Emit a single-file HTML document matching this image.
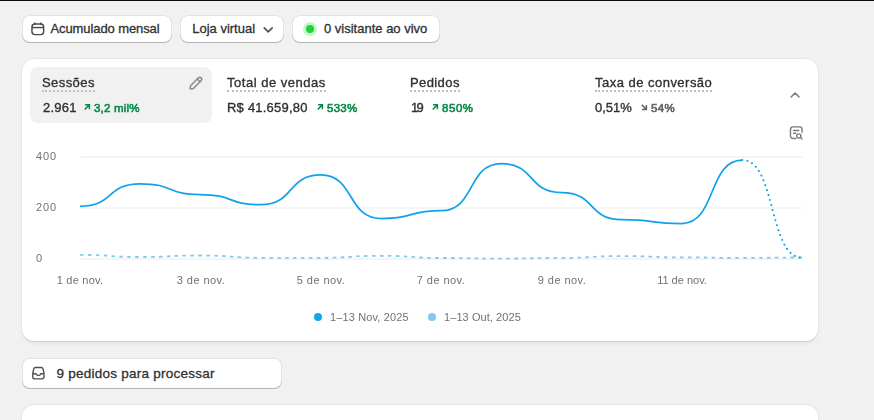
<!DOCTYPE html>
<html lang="pt-BR">
<head>
<meta charset="utf-8">
<title>Painel</title>
<style>
*{box-sizing:border-box;margin:0;padding:0}
html,body{width:874px;height:420px;overflow:hidden;background:#f1f1f1;font-family:"Liberation Sans",sans-serif;color:#303030}
body{position:relative}
.topbar{position:absolute;left:0;top:0;width:874px;height:1px;background:#0a0a0a}
.btn{position:absolute;top:15px;height:28px;background:#fff;border-radius:8px;box-shadow:inset 0 -1px 0 0 #b5b5b5,inset 0 0 0 1px #e3e3e3}
.tx{position:absolute;white-space:nowrap;line-height:16px;font-size:13px;color:#303030}
.md{-webkit-text-stroke:0.3px #303030}
.card{position:absolute;left:22px;top:59px;width:796px;height:282px;background:#fff;border-radius:12px;box-shadow:0 1px 0 0 #d0d0d0,0 0 0 1px #e6e6e6,0 4px 5px -2px rgba(0,0,0,0.07)}
.sel{position:absolute;left:30px;top:67px;width:182px;height:56px;background:#f1f1f1;border-radius:8px}
.t,.v,.d,.ax{will-change:transform}
.t{-webkit-text-stroke:0.35px #303030;border-bottom:2px dotted #c0c0c0;height:18px;line-height:17px}
.v{-webkit-text-stroke:0.35px #303030}
.d{font-size:11.5px;color:#088a47;-webkit-text-stroke:0.6px #088a47}
.d.n{color:#616161;-webkit-text-stroke:0.6px #616161}
.ax{position:absolute;font-size:11px;letter-spacing:0.45px;color:#70707b;line-height:14px;white-space:nowrap}
.axc{transform:translateX(-50%)}
.dot{position:absolute;width:8px;height:8px;border-radius:50%}
svg{position:absolute;overflow:visible}
</style>
</head>
<body>
<div class="topbar"></div>

<!-- top buttons -->
<div class="btn" style="left:22px;width:150px"></div>
<svg style="left:31px;top:21.5px" width="14" height="14" viewBox="0 0 14 14" fill="none" stroke="#4a4a4a" stroke-width="1.45"><rect x="0.95" y="2" width="11.7" height="10.6" rx="3"/><path d="M1 5.55h11.6"/><path d="M3.8 0.9v1.3M10 0.9v1.3" stroke-linecap="round"/></svg>
<span class="tx md" id="t1" style="left:50.5px;top:21px;letter-spacing:-0.1px">Acumulado mensal</span>

<div class="btn" style="left:180px;width:104px"></div>
<span class="tx md" id="t2" style="left:192.2px;top:21px">Loja virtual</span>
<svg style="left:262px;top:26px" width="12" height="8" viewBox="0 0 12 8" fill="none" stroke="#4a4a4a" stroke-width="1.5" stroke-linecap="round" stroke-linejoin="round"><path d="M2.2 1.9l4 4 4-4"/></svg>

<div class="btn" style="left:292px;width:148px"></div>
<div class="dot" style="left:303px;top:22px;width:14px;height:14px;background:#c6f4cd"></div>
<div class="dot" style="left:306px;top:25px;width:8px;height:8px;background:#23d233"></div>
<span class="tx md" id="t3" style="left:324px;top:21px">0 visitante ao vivo</span>

<!-- card -->
<div class="card"></div>
<div class="sel"></div>
<svg style="left:186px;top:73px" width="20" height="20" viewBox="0 0 20 20"><path fill="#8a8a8a" fill-rule="evenodd" d="M15.655 4.344a2.695 2.695 0 0 0-3.81 0l-.599.599-.009-.009-1.06 1.06.008.01-5.88 5.88a2.750 2.750 0 0 0-.805 1.944v1.922a.75.75 0 0 0 .75.75h1.922a2.750 2.750 0 0 0 1.944-.806l7.540-7.539a2.695 2.695 0 0 0 0-3.810Zm-4.409 2.720-5.880 5.880a1.250 1.250 0 0 0-.366.884v1.172h1.172c.331 0 .65-.132.883-.366l5.880-5.880-1.689-1.690Zm2.750.629.599-.599a1.195 1.195 0 1 0-1.690-1.689l-.598.599 1.690 1.689Z"/></svg>

<span class="tx t" id="m1" style="left:42px;top:74px;letter-spacing:0.43px">Sessões</span>
<span class="tx v" id="v1" style="left:42.6px;top:99.5px;letter-spacing:0.25px">2.961</span>
<span class="tx d" id="d1" style="left:93.8px;top:99.5px;letter-spacing:0.20px">3,2 mil%</span>

<span class="tx t" id="m2" style="left:227px;top:74px;letter-spacing:0.52px">Total de vendas</span>
<span class="tx v" id="v2" style="left:226.6px;top:99.5px;letter-spacing:0.22px">R$ 41.659,80</span>
<span class="tx d" id="d2" style="left:326.8px;top:99.5px;letter-spacing:0.25px">533%</span>

<span class="tx t" id="m3" style="left:410px;top:74px;letter-spacing:0.4px">Pedidos</span>
<span class="tx v" id="v3" style="left:411px;top:99.5px;letter-spacing:-1.7px">19</span>
<span class="tx d" id="d3" style="left:442.1px;top:99.5px;letter-spacing:0.55px">850%</span>

<span class="tx t" id="m4" style="left:594.5px;top:74px;letter-spacing:0.48px">Taxa de conversão</span>
<span class="tx v" id="v4" style="left:594.6px;top:99.5px">0,51%</span>
<span class="tx d n" id="d4" style="left:650.8px;top:99.5px;letter-spacing:0.40px">54%</span>

<!-- trend arrows -->
<svg style="left:83.8px;top:104.2px" width="6.2" height="6.2" viewBox="0 0 7 7" fill="none" stroke="#088a47" stroke-width="1.7"><path d="M1.2 0.9H6.1V5.8M6 1 0.8 6.2"/></svg>
<svg style="left:316.9px;top:104.2px" width="6.2" height="6.2" viewBox="0 0 7 7" fill="none" stroke="#088a47" stroke-width="1.7"><path d="M1.2 0.9H6.1V5.8M6 1 0.8 6.2"/></svg>
<svg style="left:431.9px;top:104.2px" width="6.2" height="6.2" viewBox="0 0 7 7" fill="none" stroke="#088a47" stroke-width="1.7"><path d="M1.2 0.9H6.1V5.8M6 1 0.8 6.2"/></svg>
<svg style="left:641px;top:104.4px" width="6.2" height="6.2" viewBox="0 0 7 7" fill="none" stroke="#616161" stroke-width="1.7"><path d="M1.2 6.1H6.1V1.2M6 6 0.8 0.8"/></svg>

<!-- right icons -->
<svg style="left:788px;top:89px" width="14" height="12" viewBox="0 0 14 12" fill="none" stroke="#787878" stroke-width="1.45" stroke-linecap="round" stroke-linejoin="round"><path d="M3.1 8l4-4 4 4"/></svg>
<svg style="left:788px;top:124px" width="18" height="18" viewBox="0 0 18 18" fill="none" stroke="#7a7a7a" stroke-width="1.4" stroke-linecap="round" stroke-linejoin="round"><path d="M7.6 14.5H5.2a2.750 2.750 0 0 1-2.750-2.750V5.650A2.750 2.750 0 0 1 5.200 2.900h6.100a2.750 2.750 0 0 1 2.750 2.750v2.700"/><path d="M5.600 6.500h5.200M5.600 9.300h2.100"/><circle cx="10.800" cy="12" r="2.100"/><path d="M12.400 13.600l1.700 1.500"/></svg>

<!-- chart -->
<svg style="left:0;top:0" width="874" height="420" viewBox="0 0 874 420" fill="none">
<path d="M80.400 157H802.400M80.400 208H802.400M80.400 259H802.400" stroke="#ebebeb" stroke-width="1"/>
<path stroke="#7ecbee" stroke-width="1.8" stroke-dasharray="3.500 4.400" d="M80.00 254.90 C114.31 254.90 105.89 257.00 140.20 257.00 C174.51 257.00 166.09 255.50 200.40 255.50 C234.71 255.50 226.29 257.80 260.60 257.80 C294.91 257.80 286.49 257.80 320.80 257.80 C355.11 257.80 346.69 255.80 381.00 255.80 C415.31 255.80 406.89 258.00 441.20 258.00 C475.51 258.00 467.09 258.60 501.40 258.60 C535.71 258.60 527.29 257.90 561.60 257.90 C595.91 257.90 587.49 256.10 621.80 256.10 C656.11 256.10 647.69 257.40 682.00 257.40 C716.31 257.40 707.89 257.90 742.20 257.90 C776.51 257.90 768.09 257.50 802.40 257.50"/>
<path stroke="#12a2ea" stroke-width="1.75" stroke-linejoin="round" d="M80.00 206.30 C114.31 206.30 105.89 183.80 140.20 183.80 C174.51 183.80 166.09 194.60 200.40 194.60 C234.71 194.60 226.29 204.70 260.60 204.70 C294.91 204.70 286.49 175.00 320.80 175.00 C355.11 175.00 346.69 218.50 381.00 218.50 C415.31 218.50 406.89 210.70 441.20 210.70 C475.51 210.70 467.09 163.60 501.40 163.60 C535.71 163.60 527.29 192.60 561.60 192.60 C595.91 192.60 587.49 219.70 621.80 219.70 C656.11 219.70 647.69 223.50 682.00 223.50 C716.31 223.50 707.89 160.00 742.20 160.00"/>
<path stroke="#12a2ea" stroke-width="2" stroke-linecap="round" stroke-dasharray="0.100 5.100" d="M742.20 160.00 C776.51 160.00 768.09 257.80 802.40 257.80"/>
</svg>

<div class="ax" id="a1" style="left:36.4px;top:149px;letter-spacing:0.9px">400</div>
<div class="ax" id="a2" style="left:36.4px;top:200px;letter-spacing:0.9px">200</div>
<div class="ax" id="a3" style="left:36.3px;top:251px">0</div>
<div class="ax axc" id="x1" style="left:80.4px;top:273px;letter-spacing:0.25px">1 de nov.</div>
<div class="ax axc" id="x2" style="left:200.6px;top:273px">3 de nov.</div>
<div class="ax axc" id="x3" style="left:320.8px;top:273px">5 de nov.</div>
<div class="ax axc" id="x4" style="left:441.2px;top:273px">7 de nov.</div>
<div class="ax axc" id="x5" style="left:561.6px;top:273px">9 de nov.</div>
<div class="ax axc" id="x6" style="left:682px;top:273px;letter-spacing:0px">11 de nov.</div>

<div class="dot" style="left:314px;top:313px;background:#13a5ee"></div>
<div class="ax" id="l1" style="left:330px;top:310px;letter-spacing:0.13px">1–13 Nov, 2025</div>
<div class="dot" style="left:428px;top:313px;background:#7ecbee"></div>
<div class="ax" id="l2" style="left:444px;top:310px;letter-spacing:0.07px">1–13 Out, 2025</div>

<!-- bottom -->
<div class="btn" style="left:22px;top:357.5px;width:260px;height:31px;border-radius:8px"></div>
<svg style="left:30.9px;top:365.7px" width="14.8" height="14.6" viewBox="0 0 15 15" fill="none" stroke="#505050" stroke-width="1.4" stroke-linejoin="round"><path d="M4.300 1.500h6.400a1.500 1.500 0 0 1 1.450 1.100l1.100 4.600v4a2.100 2.100 0 0 1-2.100 2.100H3.850a2.100 2.100 0 0 1-2.100-2.100v-4l1.100-4.600A1.500 1.500 0 0 1 4.300 1.500Z"/><path d="M1.750 8h3.300l.8 1.200a1 1 0 0 0 .8.450h1.700a1 1 0 0 0 .8-.450L9.950 8h3.300"/></svg>
<span class="tx md" id="t4" style="left:56.5px;top:366px;font-size:13.5px;letter-spacing:0.25px">9 pedidos para processar</span>

<div class="card" style="top:405px;height:60px"></div>
</body>
</html>
